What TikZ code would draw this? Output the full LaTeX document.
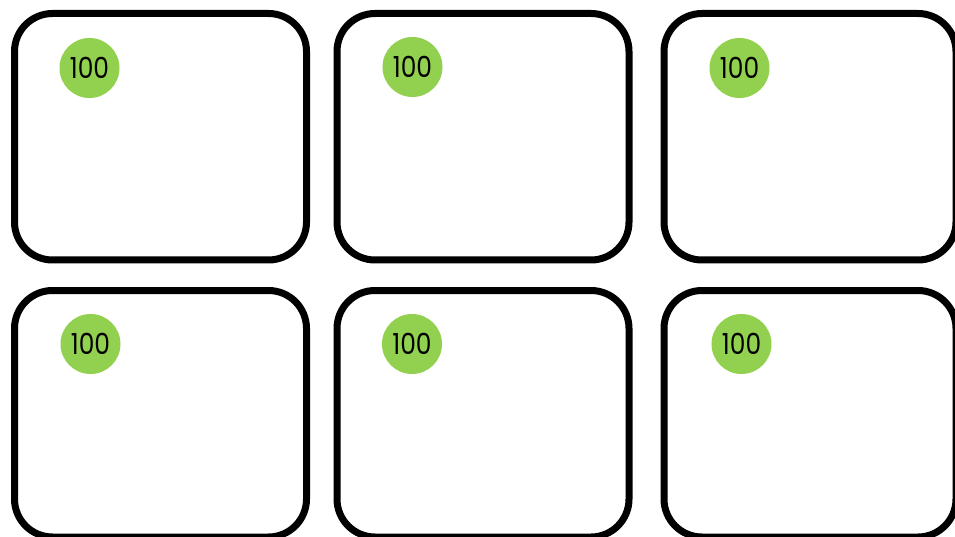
\documentclass[tikz,border=0pt]{standalone}
\usepackage{fontspec}
\setmainfont{Poppins}[FakeStretch=0.86]
\usetikzlibrary{positioning,calc}
\definecolor{scoregreen}{HTML}{92D050}
\tikzset{
  card/.style  ={draw=black, line width=7pt, rounded corners=38pt, fill=white,
                 minimum width=292pt, minimum height=246.5pt, inner sep=0pt},
  score/.style ={circle, fill=scoregreen, minimum size=60pt, inner sep=0pt,
                 text=black, font=\fontsize{29}{29}\selectfont},
}

\begin{document}
\begin{tikzpicture}[x=1pt, y=-1pt]
\useasboundingbox (0,0) rectangle (955,537);
% cards, top row then bottom row
\node[card] (c1) at (160.5,136.75) {};
\node[card] (c2) at (483,136.75) {};
\node[card] (c3) at (810,136.75) {};
\node[card] (c4) at (160.5,413.75) {};
\node[card] (c5) at (483,413.75) {};
\node[card] (c6) at (810,413.75) {};
% score badges
\node[score] (s1) at ($(c1.north west)+(78.5,58)$) {100};
\node[score] (s2) at ($(c2.north west)+(79,57)$) {100};
\node[score] (s3) at ($(c3.north west)+(79,58)$) {100};
\node[score] (s4) at ($(c4.north west)+(79.5,57)$) {100};
\node[score] (s5) at ($(c5.north west)+(78.5,57)$) {100};
\node[score] (s6) at ($(c6.north west)+(81,57)$) {100};
\end{tikzpicture}
\end{document}
